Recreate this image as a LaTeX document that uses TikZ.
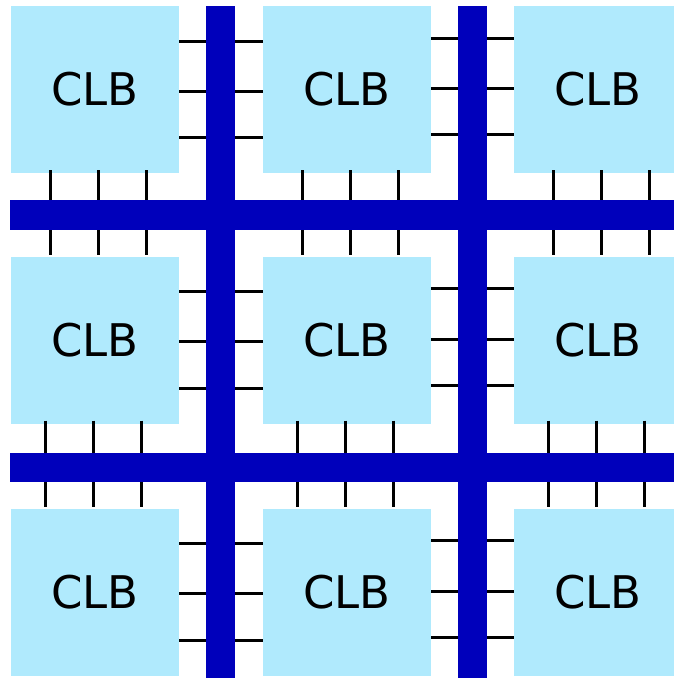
\documentclass[tikz,border=0pt]{standalone}
\usepackage{fontspec}
\setmainfont{DejaVu Sans}
\usetikzlibrary{calc}
\definecolor{clbfill}{RGB}{176,234,253}
\definecolor{busblue}{RGB}{0,0,187}
\tikzset{
  clb/.style={fill=clbfill, draw=none, minimum width=168pt, minimum height=167pt,
    inner sep=0pt, font=\fontsize{45pt}{54pt}\selectfont},
  wire/.style={draw=black, line width=2.9pt},
  bus/.style={draw=busblue, line width=29.5pt}
}
\begin{document}
\begin{tikzpicture}[x=1pt,y=-1pt]
\useasboundingbox (0,0) rectangle (674,678);
% CLB blocks
\node[clb] (b11) at (95,89.5) {CLB};
\node[clb] (b12) at (347,89.5) {CLB};
\node[clb] (b13) at (598,89.5) {CLB};
\node[clb] (b21) at (95,340) {CLB};
\node[clb] (b22) at (347,340) {CLB};
\node[clb] (b23) at (598,340) {CLB};
\node[clb] (b31) at (95,592) {CLB};
\node[clb] (b32) at (347,592) {CLB};
\node[clb] (b33) at (598,592) {CLB};
% horizontal wires between columns
\foreach \r in {1,2,3}{
  \foreach \o in {35.5,85.5,132}{
    \draw[wire] ($(b\r1.north east)+(0,\o)$) -- ($(b\r2.north west)+(0,\o)$);
  }
  \foreach \o in {32.5,83,129}{
    \draw[wire] ($(b\r2.north east)+(0,\o)$) -- ($(b\r3.north west)+(0,\o)$);
  }
}
% vertical wires between rows
\foreach \c in {1,2,3}{
  \foreach \o in {39.5,87.5,136}{
    \draw[wire] ($(b1\c.south west)+(\o,-3)$) -- ($(b2\c.north west)+(\o,-1)$);
  }
  \foreach \o in {35,83,131}{
    \draw[wire] ($(b2\c.south west)+(\o,-3)$) -- ($(b3\c.north west)+(\o,-1)$);
  }
}
% routing buses
\coordinate (v1t) at (220.5,6);   \coordinate (v1b) at (220.5,690);
\coordinate (v2t) at (472.5,6);   \coordinate (v2b) at (472.5,690);
\coordinate (h1l) at (10,215);    \coordinate (h1r) at (690,215);
\coordinate (h2l) at (10,467.5);  \coordinate (h2r) at (690,467.5);
\draw[bus] (v1t) -- (v1b);
\draw[bus] (v2t) -- (v2b);
\draw[bus] (h1l) -- (h1r);
\draw[bus] (h2l) -- (h2r);
\end{tikzpicture}
\end{document}
